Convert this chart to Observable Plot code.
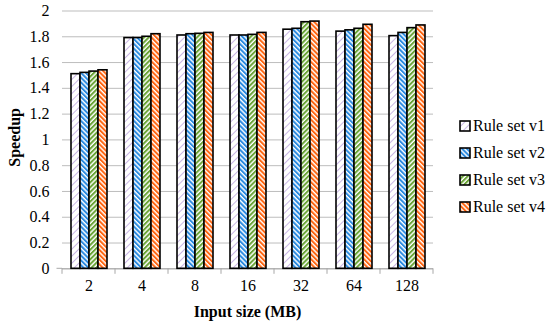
<!DOCTYPE html>
<html><head><meta charset="utf-8">
<script src="https://cdn.jsdelivr.net/npm/d3@7"></script>
<script src="https://cdn.jsdelivr.net/npm/@observablehq/plot@0.6"></script>
<style>
body{margin:0;background:#fff;}
#wrap{position:relative;width:550px;height:323px;font-family:"Liberation Serif","Times New Roman",serif;}
#legend{position:absolute;left:459px;top:112.5px;}
.item{display:flex;align-items:center;height:27px;font-size:16px;color:#000;white-space:nowrap;font-family:"Liberation Serif","Times New Roman",serif;}
.item svg{margin-right:2px;}
</style></head><body>
<svg width="0" height="0" style="position:absolute">
<defs>
<pattern id="pat1" patternUnits="userSpaceOnUse" width="5" height="5" patternTransform="rotate(45)">
<rect width="5" height="5" fill="#fff"/><rect width="1" height="5" fill="#c9b6e4"/></pattern>
<pattern id="pat2" patternUnits="userSpaceOnUse" width="3.4" height="3.4" patternTransform="rotate(-45)">
<rect width="3.4" height="3.4" fill="#fff"/><rect width="2" height="3.4" fill="#2a8ae0"/></pattern>
<pattern id="pat3" patternUnits="userSpaceOnUse" width="3.4" height="3.4" patternTransform="rotate(45)">
<rect width="3.4" height="3.4" fill="#fff"/><rect width="2" height="3.4" fill="#6aa436"/></pattern>
<pattern id="pat4" patternUnits="userSpaceOnUse" width="3.4" height="3.4" patternTransform="rotate(-45)">
<rect width="3.4" height="3.4" fill="#fff"/><rect width="2" height="3.4" fill="#ff6510"/></pattern>
</defs></svg>
<div id="wrap"><div id="legend"></div></div>
<script>
const sizes = ["2", "4", "8", "16", "32", "64", "128"];
const series = ["Rule set v1", "Rule set v2", "Rule set v3", "Rule set v4"];
const v1 = [1.51, 1.79, 1.81, 1.81, 1.855, 1.84, 1.805];
const v2 = [1.52, 1.79, 1.82, 1.81, 1.862, 1.85, 1.83];
const v3 = [1.53, 1.80, 1.823, 1.815, 1.913, 1.862, 1.867];
const v4 = [1.54, 1.82, 1.83, 1.83, 1.918, 1.893, 1.888];
const yTicks = [0, 0.2, 0.4, 0.6, 0.8, 1, 1.2, 1.4, 1.6, 1.8, 2];
const fills = ["url(#pat1)", "url(#pat2)", "url(#pat3)", "url(#pat4)"];

const values = [v1, v2, v3, v4];
const data = [];
sizes.forEach((s, i) => series.forEach((r, j) => data.push({size: s, series: r, value: values[j][i]})));

const FONT = "'Liberation Serif','Times New Roman',serif";
const W = 550, H = 323;
const plot = Plot.plot({
  width: W, height: H,
  marginLeft: 60, marginRight: 116, marginTop: 10.5, marginBottom: 54.7,
  style: {fontFamily: FONT, fontSize: "16px", color: "#000", background: "#fff"},
  fx: {domain: sizes, padding: 0},
  x: {domain: series, paddingInner: 0, paddingOuter: 0.66, axis: null},
  y: {domain: [0, 2]},
  color: {domain: series, range: fills},
  marks: [
    Plot.gridY(yTicks, {stroke: "#bdbdbd", strokeOpacity: 1, strokeWidth: 1}),
    Plot.ruleY([0], {stroke: "#a8a8a8", strokeWidth: 1}),
    Plot.barY(data, {fx: "size", x: "series", y: "value", fill: "series", stroke: "#000", strokeWidth: 1.6}),
    Plot.axisY(yTicks, {tickSize: 0, tickPadding: 13, label: null, tickFormat: d => String(+d.toFixed(1)), fontSize: 16, fontFamily: FONT}),
    Plot.axisFx({anchor: "bottom", tickSize: 0, tickPadding: 11, label: null, fontSize: 16, fontFamily: FONT})
  ]
});

const svg = d3.select(plot);
const fx = plot.scale("fx");
const y = plot.scale("y");
const y0 = y.apply(0);
const edges = fx.domain.map(d => fx.apply(d)).concat([fx.apply(fx.domain[fx.domain.length - 1]) + fx.bandwidth]);
svg.append("g").selectAll("line").data(edges).join("line")
  .attr("x1", d => d).attr("x2", d => d).attr("y1", y0).attr("y2", y0 + 5.5)
  .attr("stroke", "#a8a8a8").attr("stroke-width", 1);
svg.append("line").attr("x1", edges[0] - 5.5).attr("x2", edges[0]).attr("y1", y0).attr("y2", y0)
  .attr("stroke", "#a8a8a8");
svg.append("text").text("Speedup")
  .attr("transform", `translate(14,${(y.apply(0) + y.apply(2)) / 2 - 2}) rotate(-90)`)
  .attr("text-anchor", "middle").attr("dominant-baseline", "central")
  .attr("font-family", FONT)
  .attr("font-weight", "bold").attr("font-size", 16).attr("fill", "#000");
svg.append("text").text("Input size (MB)")
  .attr("x", (edges[0] + edges[edges.length - 1]) / 2).attr("y", 311)
  .attr("text-anchor", "middle").attr("dominant-baseline", "central")
  .attr("font-family", FONT)
  .attr("font-weight", "bold").attr("font-size", 16).attr("fill", "#000");

const wrap = document.getElementById("wrap");
wrap.insertBefore(plot, wrap.firstChild);

const legend = d3.select("#legend");
series.forEach((s, j) => {
  const it = legend.append("div").attr("class", "item");
  const sw = it.append("svg").attr("width", 12).attr("height", 12);
  sw.append("rect").attr("x", 1).attr("y", 1).attr("width", 10).attr("height", 10)
    .attr("fill", fills[j]).attr("stroke", "#000").attr("stroke-width", 1.6);
  it.append("span").text(s);
});
</script>
</body></html>
